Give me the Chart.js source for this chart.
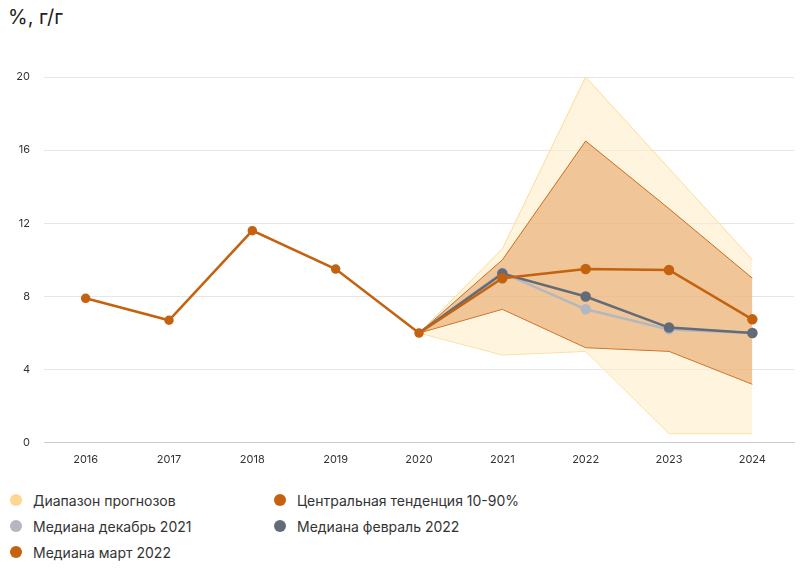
<!DOCTYPE html>
<html>
<head>
<meta charset="utf-8">
<script src="https://cdn.jsdelivr.net/npm/chart.js@4"></script>
<style>
  body { margin: 0; width: 805px; height: 570px; background: #fff; font-family: Inter, sans-serif; position: relative; overflow: hidden; }
  #title { position: absolute; left: 8px; top: 5px; font-size: 20px; color: #222; }
  #wrap { position: absolute; left: 0; top: 0; width: 805px; height: 476px; }
  #legend { position: absolute; left: 10px; top: 489px; display: grid; grid-template-columns: 264px 300px; row-gap: 4px; font-size: 14px; color: #333; }
  .item { display: flex; align-items: center; height: 22px; }
  .dot { width: 12px; height: 12px; border-radius: 50%; margin-right: 11px; }
</style>
</head>
<body>
<div id="title">%, г/г</div>
<div id="wrap"><canvas id="chart"></canvas></div>
<div id="legend"></div>
<script>
const years = ['2016', '2017', '2018', '2019', '2020', '2021', '2022', '2023', '2024']
const history = [7.9, 6.7, 11.6, 9.5, 6.0, null, null, null, null]
const rangeHigh = [null, null, null, null, 6.0, 10.6, 20.0, 15.0, 10.0]
const rangeLow = [null, null, null, null, 6.0, 4.8, 5.0, 0.5, 0.5]
const centralHigh = [null, null, null, null, 6.0, 10.0, 16.5, 12.8, 9.0]
const centralLow = [null, null, null, null, 6.0, 7.3, 5.2, 5.0, 3.2]
const medianDec = [null, null, null, null, 6.0, 9.3, 7.3, 6.2, 6.0]
const medianFeb = [null, null, null, null, 6.0, 9.25, 8.0, 6.3, 6.0]
const medianMar = [null, null, null, null, 6.0, 9.0, 9.5, 9.45, 6.75]
const yTicks = [0, 4, 8, 12, 16, 20]

const orange = '#c4620f'
const lightGray = '#b3b7bf'
const darkGray = '#636b79'

const legendItems = [
  ['Диапазон прогнозов', '#ffd68f'],
  ['Центральная тенденция 10-90%', '#c4620f'],
  ['Медиана декабрь 2021', lightGray],
  ['Медиана февраль 2022', darkGray],
  ['Медиана март 2022', orange]
]
let legendEl = document.getElementById('legend')
legendItems.forEach(it => {
  let d = document.createElement('div')
  d.className = 'item'
  d.innerHTML = '<span class="dot" style="background:' + it[1] + '"></span>' + it[0]
  legendEl.appendChild(d)
})

// no marker on the shared 2020 start point
let noFirst = arr => arr.map((v, i) => (i === 4 ? 0 : 4))

let ctx = document.getElementById('chart').getContext('2d')
let chart = new Chart(ctx, {
  type: 'line',
  data: {
    labels: years,
    datasets: [
      {
        label: 'rangeHigh',
        data: rangeHigh,
        borderColor: '#ffd997',
        borderWidth: 1,
        backgroundColor: 'rgba(255, 236, 200, 0.6)',
        fill: '+1',
        pointRadius: 0,
        order: 10
      },
      {
        label: 'rangeLow',
        data: rangeLow,
        borderColor: '#ffd997',
        borderWidth: 1,
        pointRadius: 0,
        fill: false,
        order: 10
      },
      {
        label: 'centralHigh',
        data: centralHigh,
        borderColor: '#c8691e',
        borderWidth: 1,
        backgroundColor: 'rgba(225, 150, 80, 0.5)',
        fill: '+1',
        pointRadius: 0,
        order: 9
      },
      {
        label: 'centralLow',
        data: centralLow,
        borderColor: '#c8691e',
        borderWidth: 1,
        pointRadius: 0,
        fill: false,
        order: 9
      },
      {
        label: 'Медиана декабрь 2021',
        data: medianDec,
        borderColor: lightGray,
        backgroundColor: lightGray,
        borderWidth: 2.5,
        pointRadius: noFirst(medianDec),
        fill: false,
        order: 3
      },
      {
        label: 'Медиана февраль 2022',
        data: medianFeb,
        borderColor: darkGray,
        backgroundColor: darkGray,
        borderWidth: 2.5,
        pointRadius: noFirst(medianFeb),
        fill: false,
        order: 2
      },
      {
        label: 'Медиана март 2022',
        data: medianMar,
        borderColor: orange,
        backgroundColor: orange,
        borderWidth: 2.5,
        pointRadius: noFirst(medianMar),
        fill: false,
        order: 1
      },
      {
        label: 'history',
        data: history,
        borderColor: orange,
        backgroundColor: orange,
        borderWidth: 2.5,
        pointRadius: 3.5,
        fill: false,
        order: 0
      }
    ]
  },
  options: {
    responsive: true,
    maintainAspectRatio: false,
    animation: false,
    layout: { padding: { top: 77, right: 11, left: 0, bottom: 0 } },
    plugins: {
      legend: { display: false },
      tooltip: { enabled: false }
    },
    elements: { line: { tension: 0 } },
    scales: {
      x: {
        offset: true,
        grid: { display: false, drawTicks: false },
        border: { display: true, color: '#c9cdd9', width: 1 },
        ticks: { color: '#333', font: { family: 'Inter', size: 11 }, padding: 10 }
      },
      y: {
        min: 0,
        max: 20,
        afterFit: s => { s.width = 44 },
        afterBuildTicks: s => { s.ticks = yTicks.map(v => ({ value: v })) },
        grid: { color: '#e6e6e6', drawTicks: false },
        border: { display: false },
        ticks: { color: '#333', font: { family: 'Inter', size: 11 }, padding: 14 }
      }
    }
  }
})
</script>
</body>
</html>
